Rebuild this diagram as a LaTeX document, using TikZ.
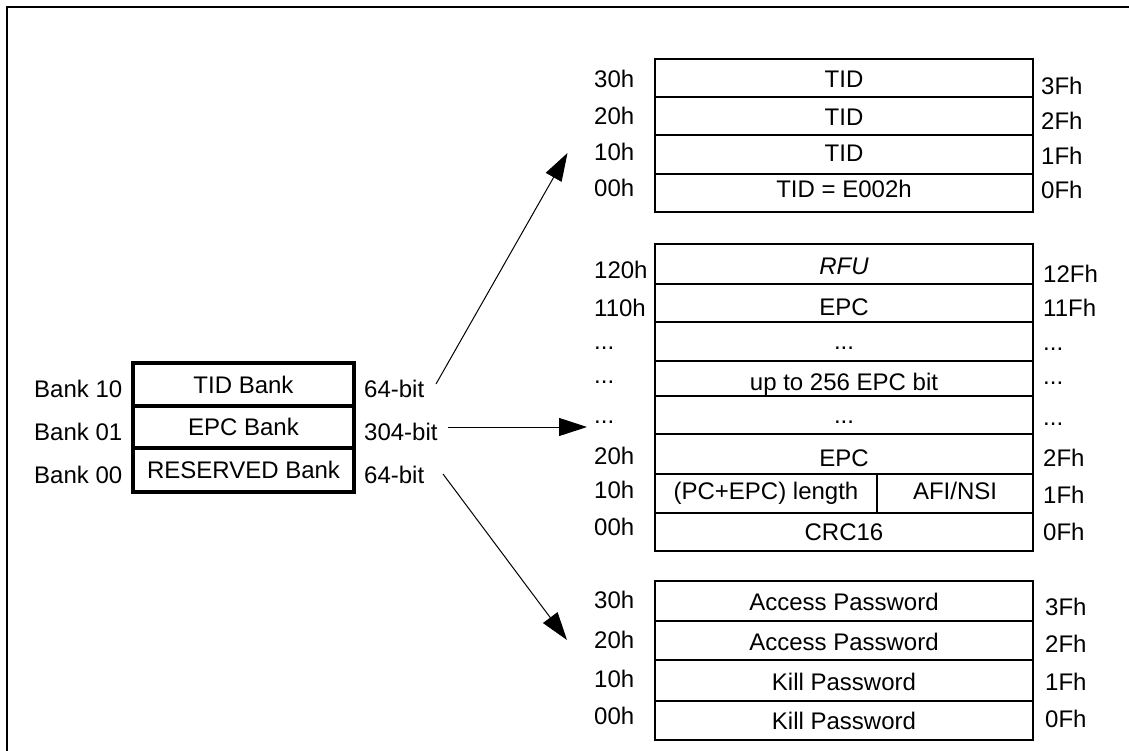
\documentclass[tikz,border=0pt]{standalone}
\usepackage{fontspec}
\setmainfont{Liberation Sans}
\usetikzlibrary{arrows.meta}
\newcommand\mydots{...}
\begin{document}
\begin{tikzpicture}[x=1pt,y=-1pt,
  font=\fontsize{24}{28}\selectfont,
  lbl/.style={anchor=base west, inner sep=0pt},
  ctext/.style={anchor=base, inner sep=0pt},
  tbl/.style={line width=1.2pt},
  bankbox/.style={line width=4pt},
  arr/.style={line width=1pt, -{Triangle[length=28pt,width=18pt]}}]
\useasboundingbox (0,0) rectangle (1129,751);
% outer frame (partly visible)
\draw[line width=2pt] (6.5,751) -- (6.5,7.5) -- (1129,7.5);

% ---- left bank box ----
\draw[bankbox] (133,363) rectangle (354,492);
\draw[bankbox] (133,406) -- (354,406);
\draw[bankbox] (133,448) -- (354,448);
\foreach \t/\b/\n/\c/\w [count=\i] in {363/406/Bank 10/TID Bank/64-bit,
                                       406/448/Bank 01/EPC Bank/304-bit,
                                       448/492/Bank 00/RESERVED Bank/64-bit}{
  \node[ctext] (bank\i) at (243.5,{(\t+\b)/2+8.6}) {\c};
  \node[lbl] (bankl\i) at (34,{(\t+\b)/2+13}) {\n};
  \node[lbl] (bits\i) at (364,{(\t+\b)/2+13}) {\w};
}

% ---- TID table ----
\draw[tbl] (655,59) rectangle (1033,212);
\foreach \b/\c/\l/\r/\cb/\lb/\rb [count=\i] in {
     97/TID/30h/3Fh/87.4/87.4/94.4,
    135/TID/20h/2Fh/125.4/124.4/129.4,
    174/TID/10h/1Fh/161.4/160.4/164.4,
    212/TID = E002h/00h/0Fh/197.4/196.4/198.4}{
  \node[ctext] (tid\i) at (844,\cb) {\c};
  \node[lbl] (tidl\i) at (594,\lb) {\l};
  \node[lbl] (tidr\i) at (1041,\rb) {\r};
  \draw[tbl] (655,\b) -- (1033,\b);
}

% ---- EPC table ----
\draw[tbl] (655,244) rectangle (1033,551);
\foreach \b/\c/\l/\r/\cb/\lb/\rb [count=\i] in {
    284/\textit{RFU}/120h/12Fh/274.5/278/283,
    322/EPC/110h/11Fh/315/316/316,
    361/\mydots/\mydots/\mydots/349/349/350.5,
    396/up to 256 EPC bit/\mydots/\mydots/390/383/384,
    434/\mydots/\mydots/\mydots/423/423/425,
    474/EPC/20h/2Fh/466/464/466,
    551/CRC16/00h/0Fh/540/535/540}{
  \node[ctext] (epc\i) at (844,\cb) {\c};
  \node[lbl] (epcl\i) at (594,\lb) {\l};
  \node[lbl] (epcr\i) at (1043,\rb) {\r};
  \draw[tbl] (655,\b) -- (1033,\b);
}
% (PC+EPC) length / AFI/NSI row
\draw[tbl] (655,513) -- (1033,513);
\draw[tbl] (877,474) -- (877,513);
\node[ctext] (pclen) at (766,499.5) {(PC+EPC) length};
\node[ctext] (afi) at (955,499.5) {AFI/NSI};
\node[lbl] (pcl) at (594,498.5) {10h};
\node[lbl] (pcr) at (1043,503.5) {1Fh};

% ---- password table ----
\draw[tbl] (655,581) rectangle (1033,740);
\foreach \b/\c/\l/\r/\cb/\lb/\rb [count=\i] in {
    621/Access Password/30h/3Fh/610/608/615,
    660/Access Password/20h/2Fh/650/648.5/652,
    701/Kill Password/10h/1Fh/690.5/687/690.5,
    740/Kill Password/00h/0Fh/729.5/724/727}{
  \node[ctext] (pw\i) at (844,\cb) {\c};
  \node[lbl] (pwl\i) at (594,\lb) {\l};
  \node[lbl] (pwr\i) at (1045,\rb) {\r};
  \draw[tbl] (655,\b) -- (1033,\b);
}

% ---- arrows ----
\coordinate (a1s) at (436,384);
\coordinate (a1e) at (567.5,153);
\coordinate (a2s) at (448,427);
\coordinate (a2e) at (587,427);
\coordinate (a3s) at (443,474);
\coordinate (a3e) at (567,640);
\draw[arr] (a1s) -- (a1e);
\draw[arr] (a2s) -- (a2e);
\draw[arr] (a3s) -- (a3e);
\end{tikzpicture}
\end{document}
